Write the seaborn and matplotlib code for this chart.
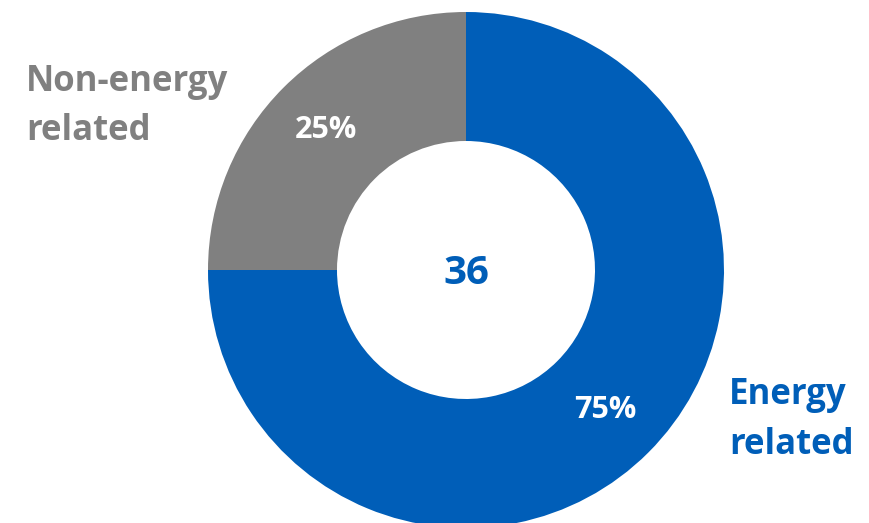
import matplotlib.pyplot as plt
import seaborn as sns

# Share of the total (36) by source
categories = ["Energy related", "Non-energy related"]
shares = [75, 25]
total_label = "36"
side_labels = ["Energy\nrelated", "Non-energy\nrelated"]

sns.set_theme(style="white")
plt.rcParams['font.family'] = ['Open Sans', 'DejaVu Sans']

blue = "#005EB8"
grey = "#808080"
colors = [blue, grey]

fig = plt.figure(figsize=(8.69, 5.23), dpi=100)
ax = fig.add_axes([0, 0, 1, 1])

# donut: blue runs clockwise from 12 o'clock, grey fills the rest
wedges, texts, autotexts = ax.pie(
    shares, colors=colors, startangle=90, counterclock=False,
    radius=258, center=(466, 253),
    wedgeprops=dict(width=129, linewidth=0),
    autopct=lambda p: f"{p:.0f}%", pctdistance=0.765,
    textprops=dict(color="white", fontsize=22, fontweight="bold"))

# pie resets the limits, so set pixel-like limits afterwards
ax.set_xlim(0, 869)
ax.set_ylim(0, 523)
ax.set_aspect("equal")
ax.axis("off")

ax.text(466, 250, total_label, ha="center", va="center",
        fontsize=29, fontweight="bold", color=blue)

# side labels
ax.text(729, 146, side_labels[0], ha="left", va="top", fontsize=25,
        fontweight="bold", color=blue, linespacing=1.5)
ax.text(26, 459, side_labels[1], ha="left", va="top", fontsize=25,
        fontweight="bold", color=grey, linespacing=1.5)

fig.savefig("out.png", dpi=100)
